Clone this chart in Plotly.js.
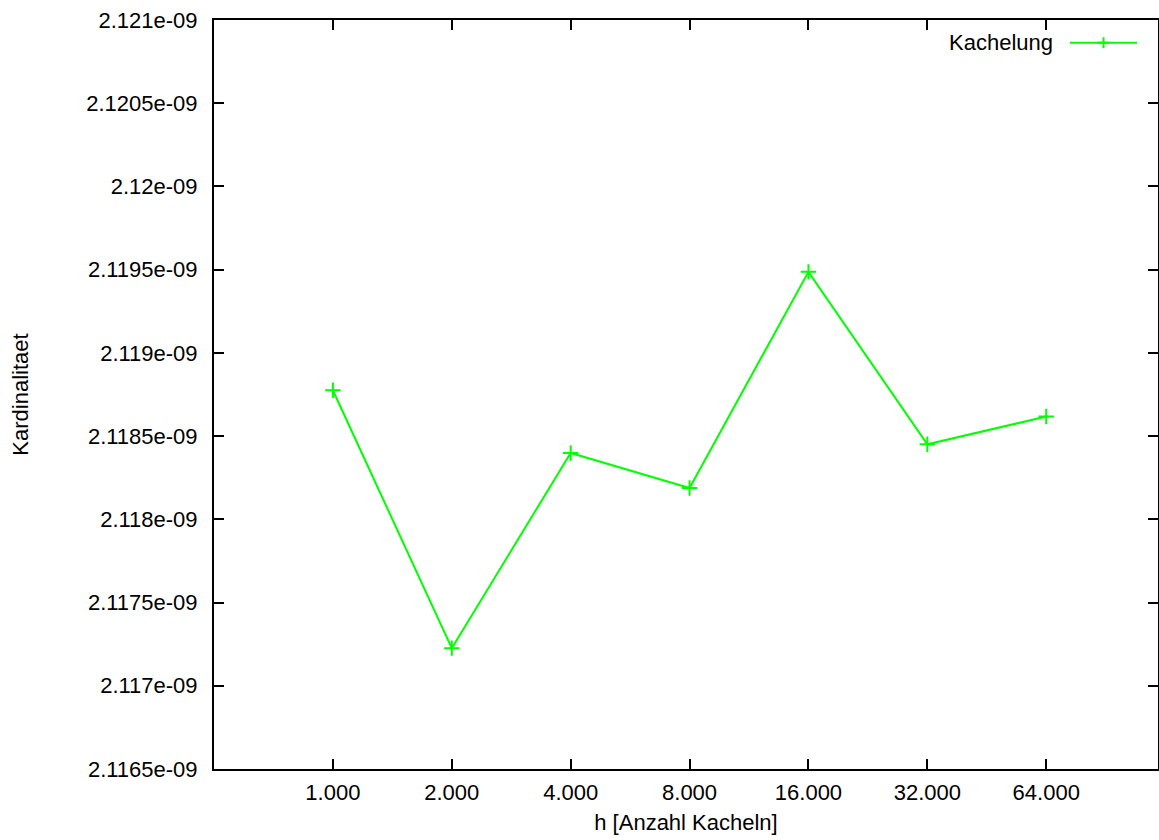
<!DOCTYPE html>
<html>
<head>
<meta charset="utf-8">
<script src="https://cdn.plot.ly/plotly-3.0.1.min.js"></script>
<style>html,body{margin:0;padding:0;background:#fff;}#chart{width:1159px;height:840px;}</style>
</head>
<body>
<div id="chart"></div>
<script>
var categories = ["1.000", "2.000", "4.000", "8.000", "16.000", "32.000", "64.000"];
var kachelung = [2.1187755e-9, 2.117226e-9, 2.1183985e-9, 2.118188e-9, 2.119487e-9, 2.118451e-9, 2.1186174e-9];
var yTickVals = [2.1165e-9, 2.117e-9, 2.1175e-9, 2.118e-9, 2.1185e-9, 2.119e-9, 2.1195e-9, 2.12e-9, 2.1205e-9, 2.121e-9];
var yTickText = ["2.1165e-09", "2.117e-09", "2.1175e-09", "2.118e-09", "2.1185e-09", "2.119e-09", "2.1195e-09", "2.12e-09", "2.1205e-09", "2.121e-09"];
var seriesName = "Kachelung";

var fontFam = "Liberation Sans, Arial, sans-serif";
var green = "#00ff00";

var trace = {
  x: categories.map(function(_, i){ return i; }),
  y: kachelung,
  type: "scatter",
  mode: "lines+markers",
  name: seriesName,
  line: {color: green, width: 2},
  marker: {symbol: "cross-thin", size: 11, color: green, line: {color: green, width: 2}},
  showlegend: false
};

var layout = {
  width: 1159, height: 840,
  margin: {l: 214, r: 1, t: 20, b: 71},
  paper_bgcolor: "#fff", plot_bgcolor: "#fff",
  font: {family: fontFam, size: 22, color: "#000"},
  xaxis: {
    range: [-1, 6.94],
    tickmode: "array",
    tickvals: categories.map(function(_, i){ return i; }),
    ticktext: categories,
    ticks: "inside", ticklen: 10, tickwidth: 2, tickcolor: "#000",
    showline: true, linecolor: "#000", linewidth: 2, mirror: "ticks",
    showgrid: false, zeroline: false,
    ticklabelstandoff: 3,
    title: {text: "h [Anzahl Kacheln]", font: {family: fontFam, size: 22}, standoff: 10}
  },
  yaxis: {
    range: [2.1165e-9, 2.121e-9],
    tickmode: "array",
    tickvals: yTickVals,
    ticktext: yTickText,
    ticks: "inside", ticklen: 10, tickwidth: 2, tickcolor: "#000",
    showline: true, linecolor: "#000", linewidth: 2, mirror: "ticks",
    showgrid: false, zeroline: false,
    ticklabelstandoff: 10,
    title: {text: "Kardinalitaet", font: {family: fontFam, size: 22}, standoff: 52}
  },
  annotations: [{
    xref: "paper", yref: "paper", x: 0.891, y: 0.9697,
    xanchor: "right", yanchor: "middle", showarrow: false,
    text: seriesName, font: {family: fontFam, size: 22, color: "#000"}
  }],
  shapes: [
    {type: "line", xref: "paper", yref: "paper", x0: 0.9068, x1: 0.9778, y0: 0.9697, y1: 0.9697, line: {color: green, width: 2}},
    {type: "line", xref: "paper", yref: "paper", xsizemode: "pixel", ysizemode: "pixel", xanchor: 0.9423, yanchor: 0.9697, x0: -5.5, x1: 5.5, y0: 0, y1: 0, line: {color: green, width: 2}},
    {type: "line", xref: "paper", yref: "paper", xsizemode: "pixel", ysizemode: "pixel", xanchor: 0.9423, yanchor: 0.9697, x0: 0, x1: 0, y0: -5.5, y1: 5.5, line: {color: green, width: 2}}
  ],
  showlegend: false
};

Plotly.newPlot("chart", [trace], layout, {displayModeBar: false, staticPlot: true});
</script>
</body>
</html>
